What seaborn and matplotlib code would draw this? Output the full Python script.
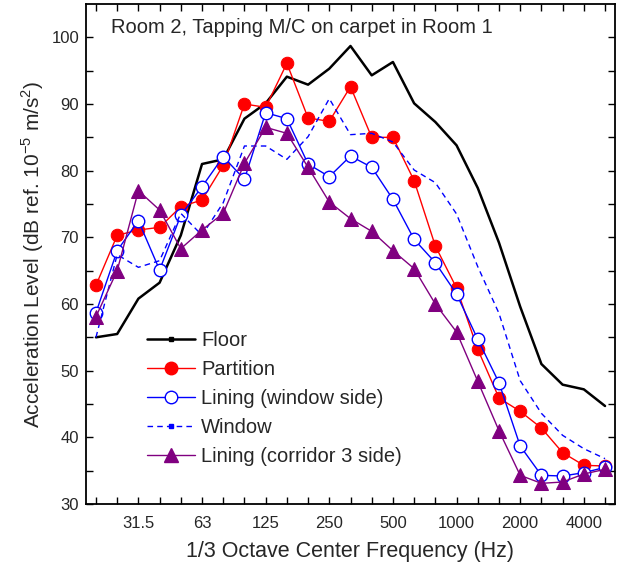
import matplotlib
matplotlib.use("Agg")
import matplotlib.pyplot as plt
from matplotlib.lines import Line2D
import seaborn as sns
import numpy as np

freqs = ["20", "25", "31.5", "40", "50", "63", "80", "100", "125", "160", "200", "250",
         "315", "400", "500", "630", "800", "1000", "1250", "1600", "2000", "2500",
         "3150", "4000", "5000"]
shown_labels = ["31.5", "63", "125", "250", "500", "1000", "2000", "4000"]

floor = [55.0, 55.5, 60.8, 63.2, 70.3, 81.0, 81.7, 87.8, 90.1, 94.1, 92.9, 95.3,
         98.7, 94.3, 96.3, 90.1, 87.3, 83.8, 77.4, 69.2, 59.6, 51.0, 47.9, 47.2, 44.7]
partition = [62.8, 70.3, 71.1, 71.5, 74.6, 75.6, 80.8, 90.0, 89.5, 96.1, 87.9, 87.4,
             92.6, 85.0, 85.0, 78.5, 68.7, 62.4, 53.2, 45.9, 43.9, 41.4, 37.7, 35.8, 35.7]
lining_window = [58.7, 68.0, 72.5, 65.1, 73.3, 77.6, 82.1, 78.7, 88.7, 87.8, 81.0, 79.1,
                 82.2, 80.5, 75.7, 69.7, 66.2, 61.5, 54.7, 48.2, 38.7, 34.3, 34.2, 34.7, 35.5]
window = [55.0, 67.4, 65.5, 66.5, 73.6, 70.3, 75.2, 83.7, 83.7, 81.7, 85.1, 90.8,
          85.4, 85.6, 84.3, 80.1, 78.2, 73.5, 65.6, 58.6, 48.5, 43.6, 40.3, 38.3, 36.8]
lining_corridor = [58.1, 65.0, 77.0, 74.1, 68.3, 71.1, 73.6, 81.1, 86.5, 85.6, 80.5, 75.3,
                   72.8, 70.9, 68.0, 65.3, 60.0, 55.8, 48.4, 41.0, 34.3, 33.1, 33.3, 34.5, 35.2]

series_names = ["Floor", "Partition", "Lining (window side)", "Window", "Lining (corridor 3 side)"]

sns.set_theme(style="ticks")
plt.rcParams['font.family'] = ['Liberation Sans', 'DejaVu Sans']

fig = plt.figure(figsize=(6.19, 5.73), dpi=100)
ax = fig.add_axes([86/619, (573-504)/573, (615-86)/619, 500/573])

idx = np.arange(len(freqs))

sns.lineplot(x=idx, y=floor, ax=ax, color="black", lw=1.8, sort=False)
sns.lineplot(x=idx, y=partition, ax=ax, color="#ff0000", lw=1.0, marker="o",
             markersize=9, markerfacecolor="#ff0000", markeredgecolor="#ff0000", sort=False)
sns.lineplot(x=idx, y=lining_window, ax=ax, color="#0000ff", lw=1.0, marker="o",
             markersize=9, markerfacecolor="white", markeredgecolor="#0000ff",
             markeredgewidth=1.0, sort=False)
sns.lineplot(x=idx, y=window, ax=ax, color="#0000ff", lw=1.0, linestyle=(0, (4, 3)),
             sort=False)
sns.lineplot(x=idx, y=lining_corridor, ax=ax, color="#800080", lw=1.0, marker="^",
             markersize=10, markerfacecolor="#800080", markeredgecolor="#800080", sort=False)

ax.set_xlim(-0.47, len(freqs) - 1 + 0.47)
ax.set_ylim(30, 105)

ax.set_xticks(idx)
ax.set_xticklabels([f if f in shown_labels else "" for f in freqs])
ax.set_yticks(np.arange(30, 101, 10))
ax.set_yticks(np.arange(35, 105, 10), minor=True)

for side in ["top", "right", "left", "bottom"]:
    ax.spines[side].set_visible(True)
    ax.spines[side].set_linewidth(1.3)
    ax.spines[side].set_color("black")

ax.tick_params(axis="both", which="both", direction="in", top=True, right=True,
               color="black", width=1.0)
ax.tick_params(axis="both", which="major", length=5, labelsize=12)
ax.tick_params(axis="y", which="minor", length=5)
ax.tick_params(axis="x", which="major", pad=9)
ax.tick_params(axis="y", which="major", pad=5)

ax.set_xlabel("1/3 Octave Center Frequency (Hz)", fontsize=15.5, labelpad=7)
ax.set_ylabel("Acceleration Level (dB ref. 10$^{\\mathregular{-5}}$ m/s$^{\\mathregular{2}}$)",
              fontsize=15, labelpad=4)

ax.text(0.047, 0.972, "Room 2, Tapping M/C on carpet in Room 1", transform=ax.transAxes,
        fontsize=14.5, ha="left", va="top")

handles = [
    Line2D([], [], color="black", lw=1.8, marker="s", markersize=3),
    Line2D([], [], color="#ff0000", lw=1.0, marker="o", markersize=9,
           markerfacecolor="#ff0000", markeredgecolor="#ff0000"),
    Line2D([], [], color="#0000ff", lw=1.0, marker="o", markersize=9,
           markerfacecolor="white", markeredgecolor="#0000ff"),
    Line2D([], [], color="#0000ff", lw=1.0, linestyle=(0, (4, 3)), marker="s", markersize=3),
    Line2D([], [], color="#800080", lw=1.0, marker="^", markersize=10,
           markerfacecolor="#800080", markeredgecolor="#800080"),
]
leg = ax.legend(handles, series_names, loc="upper left", bbox_to_anchor=(0.1, 0.362),
                frameon=False, fontsize=14.5, handlelength=2.4, handletextpad=0.3,
                labelspacing=0.5, borderaxespad=0)

fig.savefig("out.png", dpi=100)
